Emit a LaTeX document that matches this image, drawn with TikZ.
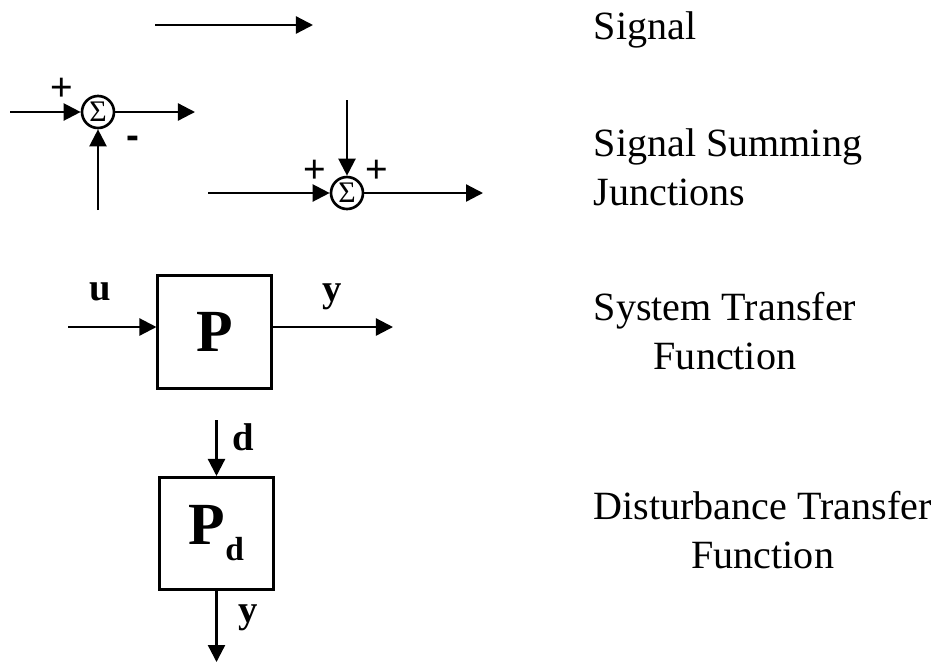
\documentclass[tikz,border=0pt]{standalone}
\usepackage{fontspec}
\setmainfont{Liberation Serif}
\newfontfamily\signfont{Liberation Sans}
\usetikzlibrary{arrows.meta,positioning}

\begin{document}
\begin{tikzpicture}[x=0.01cm,y=-0.01cm,
  sig/.style={-{Triangle[length=1.7mm,width=1.7mm]},line width=0.65pt},
  sumnode/.style={draw,circle,line width=0.75pt,minimum size=0.32cm,inner sep=0pt,font=\fontsize{8.5}{9}\selectfont},
  blk/.style={draw,line width=0.85pt,minimum width=1.13cm,minimum height=1.12cm,inner sep=0pt,font=\fontsize{17}{20}\selectfont\bfseries},
  lbl/.style={font=\fontsize{11}{13}\selectfont\bfseries,inner sep=0pt},
  pm/.style={font=\signfont\fontsize{11}{13}\selectfont,inner sep=0pt},
  txt/.style={font=\fontsize{11.4}{13.8}\selectfont,inner sep=0pt,anchor=base west}]
\useasboundingbox (0,0) rectangle (943,666);
% signal
\coordinate (s0) at (155,25);
\coordinate (s1) at (313,25);
\draw[sig] (s0) -- (s1);
% summing junctions
\node[sumnode] (sum1) at (98,112) {Σ};
\coordinate (a0) at (10,112);
\coordinate (a1) at (195,112);
\coordinate (a2) at (98,210);
\draw[sig] (a0) -- (sum1);
\draw[sig] (sum1) -- (a1);
\draw[sig] (a2) -- (sum1);
\node[pm] (plus1) at (62,89) {+};
\node[pm] (minus1) at (133,142) {\textbf{-}};
\node[sumnode] (sum2) at (347,193) {Σ};
\coordinate (b0) at (208,193);
\coordinate (b1) at (483,193);
\coordinate (b2) at (347,100);
\draw[sig] (b0) -- (sum2);
\draw[sig] (b2) -- (sum2);
\draw[sig] (sum2) -- (b1);
\node[pm] (plus2) at (315,171) {+};
\node[pm] (plus3) at (377,171) {+};
% plant
\node[blk] (P) at (214.5,332) {P};
\coordinate (u0) at (68,327);
\coordinate (y0) at (393,327);
\draw[sig] (u0) -- (u0 -| P.west);
\draw[sig] (P.east |- u0) -- (y0);
\node[lbl] (lu) at (100,292) {u};
\node[lbl] (ly) at (332,297) {y};
% disturbance
\node[blk] (Pd) at (216.5,533.5) {P\raisebox{-0.16cm}{\fontsize{9.5}{11}\selectfont d}};
\coordinate (d0) at (216.5,420);
\coordinate (d1) at (216.5,662);
\draw[sig] (d0) -- (Pd);
\draw[sig] (Pd) -- (d1);
\node[lbl] (ld) at (243,437) {d};
\node[lbl] (ly2) at (248,618) {y};
% legend texts
\node[txt] (tsig) at (593,39) {Signal};
\node[txt,align=left] (tsum) at (593,205) {Signal Summing\\Junctions};
\node[txt,align=center] (tsys) at (593,369) {System Transfer\\Function};
\node[txt,align=center] (tdist) at (593,568) {Disturbance Transfer\\Function};
\end{tikzpicture}
\end{document}
